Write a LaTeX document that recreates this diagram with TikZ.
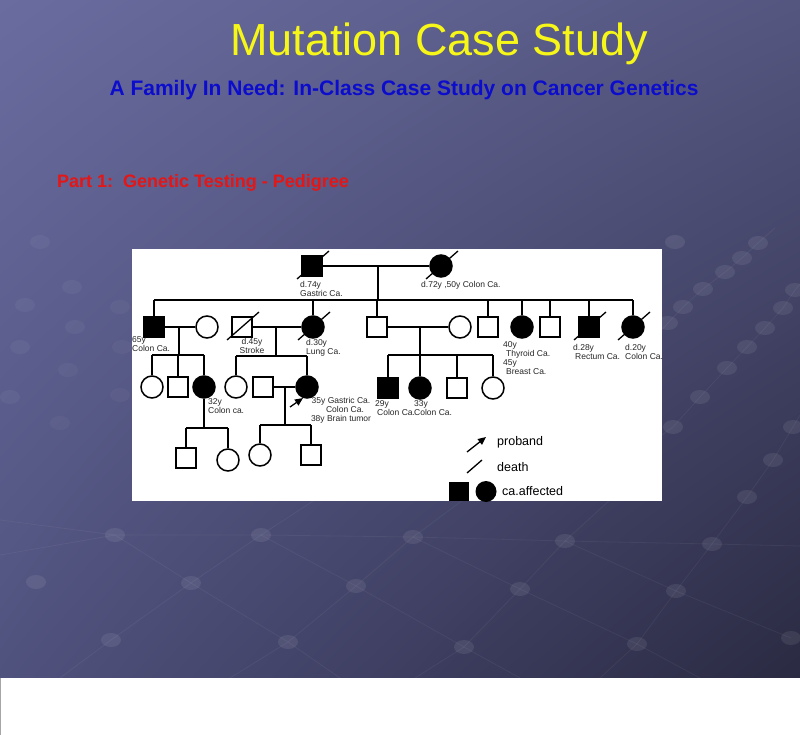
\documentclass[tikz,border=0pt]{standalone}
\usepackage{fontspec}
\setmainfont{Liberation Sans}
\usetikzlibrary{arrows.meta,shadings}

\definecolor{bgul}{RGB}{106,108,160}
\definecolor{bgur}{RGB}{84,86,128}
\definecolor{bgll}{RGB}{80,82,126}
\definecolor{bglr}{RGB}{42,42,66}
\definecolor{titleyellow}{RGB}{246,246,24}
\definecolor{subblue}{RGB}{12,12,205}
\definecolor{partred}{RGB}{228,22,22}

\begin{document}
\begin{tikzpicture}[x=1pt,y=-1pt,>={Triangle[length=8pt,width=7pt]},
  male/.style={draw,line width=1.5pt,minimum size=20pt,inner sep=0pt},
  female/.style={draw,circle,line width=1.5pt,minimum size=22pt,inner sep=0pt},
  ca/.style={fill=black},
  kin/.style={line width=1.3pt},
  lbl/.style={font=\fontsize{8.5}{9}\selectfont,inner sep=0pt,align=left,anchor=north west,text=black!85},
  key/.style={font=\fontsize{12.5}{14}\selectfont,inner sep=0pt,anchor=west},
  bubble/.style={fill=white,fill opacity=0.08},
  faint/.style={fill=white,fill opacity=0.04},
  wire/.style={draw=white,draw opacity=0.05,line width=0.8pt}]
\useasboundingbox (0,0) rectangle (800,735);

% slide background
\shade[upper left=bgul,upper right=bgur,lower left=bgll,lower right=bglr] (0,0) rectangle (800,678);
\draw[wire] (0,520) -- (115,535) -- (261,535) -- (413,537) -- (565,541) -- (712,544) -- (800,546);
\draw[wire] (0,555) -- (115,535) -- (191,583) -- (288,642) -- (340,678);
\draw[wire] (60,678) -- (111,640) -- (191,583) -- (261,535) -- (330,490);
\draw[wire] (230,678) -- (288,642) -- (356,586) -- (413,537) -- (470,495);
\draw[wire] (415,678) -- (464,647) -- (520,589) -- (565,541) -- (610,500);
\draw[wire] (600,678) -- (637,644) -- (676,591) -- (712,544) -- (747,497) -- (773,460) -- (793,427) -- (800,415);
\draw[wire] (261,535) -- (356,586) -- (464,647) -- (520,678);
\draw[wire] (413,537) -- (520,589) -- (637,644) -- (700,678);
\draw[wire] (565,541) -- (676,591) -- (791,638);
\draw[wire] (648,345) -- (668,323) -- (683,307) -- (703,289) -- (725,272) -- (742,258) -- (758,243) -- (775,228);
\draw[wire] (662,435) -- (673,427) -- (700,397) -- (727,368) -- (747,347) -- (765,328) -- (783,308) -- (795,290) -- (800,284);
\foreach \x/\y in {115/535,261/535,413/537,565/541,712/544,36/582,191/583,356/586,520/589,676/591,
  111/640,288/642,464/647,637/644,791/638,675/242,758/243,742/258,725/272,703/289,683/307,668/323,
  795/290,783/308,765/328,747/347,727/368,700/397,673/427,793/427,773/460,747/497}
  \fill[bubble] (\x,\y) ellipse (10 and 7);
\foreach \x/\y in {40/242,72/287,25/305,120/307,75/327,20/347,122/347,68/370,10/397,120/395,60/423}
  \fill[faint] (\x,\y) ellipse (10 and 7);
\fill[white] (0,678) rectangle (800,735);
\draw[gray!70] (0.5,678) -- (0.5,735);

% headings
\node[text=titleyellow,font=\fontsize{45}{54}\selectfont,inner sep=0pt,anchor=base] (title) at (439,56) {Mutation Case Study};
\node[text=subblue,font=\bfseries\fontsize{21}{25}\selectfont,inner sep=0pt,anchor=base] (subtitle) at (404,96) {A Family In Need: In-Class Case Study on Cancer Genetics};
\node[text=partred,font=\bfseries\fontsize{18}{22}\selectfont,inner sep=0pt,anchor=base west] (part) at (57,188) {Part 1:\ \ Genetic Testing - Pedigree};

% pedigree panel
\fill[white] (132,249) rectangle (662,501);

% generation I
\node[male,ca] (gf) at (312,266) {};
\node[female,ca] (gm) at (441,266) {};
\coordinate (m0) at (378,266);
\coordinate (s0) at (378,300);

% generation II
\node[male,ca] (a1) at (154,327) {};
\node[female] (a1s) at (207,327) {};
\node[male] (a2) at (242,327) {};
\node[female,ca] (a3) at (313,327) {};
\node[male] (a4) at (377,327) {};
\node[female] (a4s) at (460,327) {};
\node[male] (a5) at (488,327) {};
\node[female,ca] (a6) at (522,327) {};
\node[male] (a7) at (550,327) {};
\node[male,ca] (a8) at (589,327) {};
\node[female,ca] (a9) at (633,327) {};
\coordinate (m1) at (179,327);
\coordinate (s1) at (179,355);
\coordinate (m2) at (276,327);
\coordinate (s2) at (276,356);
\coordinate (m3) at (420,327);
\coordinate (s3) at (420,355);

% generation III
\node[female] (b1) at (152,387) {};
\node[male] (b2) at (178,387) {};
\node[female,ca] (b3) at (204,387) {};
\node[female] (b4) at (236,387) {};
\node[male] (b5s) at (263,387) {};
\node[female,ca] (b5) at (307,387) {};
\node[male,ca] (b6) at (388,388) {};
\node[female,ca] (b7) at (420,388) {};
\node[male] (b8) at (457,388) {};
\node[female] (b9) at (493,388) {};
\coordinate (s4) at (204,428);
\coordinate (m5) at (285,387);
\coordinate (s5) at (285,425);

% generation IV
\node[male] (c1) at (186,458) {};
\node[female] (c2) at (228,460) {};
\node[female] (c3) at (260,455) {};
\node[male] (c4) at (311,455) {};

% marriages and lines of descent
\draw[kin] (gf) -- (gm);
\draw[kin] (m0) -- (s0);
\draw[kin] (a1.north |- s0) -- (a9.north |- s0);
\foreach \k in {a1,a3,a4,a5,a6,a7,a8,a9}
  \draw[kin] (\k.north |- s0) -- (\k.north);
\draw[kin] (a1) -- (a1s);
\draw[kin] (a2) -- (a3);
\draw[kin] (a4) -- (a4s);
\draw[kin] (m1) -- (s1);
\draw[kin] (b1.north |- s1) -- (b3.north |- s1);
\foreach \k in {b1,b2,b3}
  \draw[kin] (\k.north |- s1) -- (\k.north);
\draw[kin] (m2) -- (s2);
\draw[kin] (b4.north |- s2) -- (b5.north |- s2);
\foreach \k in {b4,b5}
  \draw[kin] (\k.north |- s2) -- (\k.north);
\draw[kin] (m3) -- (s3);
\draw[kin] (b6.north |- s3) -- (b9.north |- s3);
\foreach \k in {b6,b7,b8,b9}
  \draw[kin] (\k.north |- s3) -- (\k.north);
\draw[kin] (b5s) -- (b5);
\draw[kin] (b3.south) -- (s4);
\draw[kin] (c1.north |- s4) -- (c2.north |- s4);
\foreach \k in {c1,c2}
  \draw[kin] (\k.north |- s4) -- (\k.north);
\draw[kin] (m5) -- (s5);
\draw[kin] (c3.north |- s5) -- (c4.north |- s5);
\foreach \k in {c3,c4}
  \draw[kin] (\k.north |- s5) -- (\k.north);

% deceased
\foreach \k in {gf,gm,a2,a3,a8,a9}
  \draw[kin] ([shift={(-15,13)}]\k.center) -- ([shift={(17,-15)}]\k.center);

% proband
\coordinate (pb) at (290,407);
\draw[kin,->] (pb) -- (b5.250);

% ages and diagnoses
\node[lbl] (gf-lbl) at (300,281) {d.74y\\Gastric Ca.};
\node[lbl] (gm-lbl) at (421,281) {d.72y ,50y Colon Ca.};
\node[lbl] (a1-lbl) at (132,336) {65y\\Colon Ca.};
\node[lbl,align=center,anchor=north] (a2-lbl) at (252,338) {d.45y\\Stroke};
\node[lbl] (a3-lbl) at (306,339) {d.30y\\Lung Ca.};
\node[lbl] (a6-lbl) at (503,341) {40y\\\hspace*{3pt}Thyroid Ca.\\45y\\\hspace*{3pt}Breast Ca.};
\node[lbl] (a8-lbl) at (573,344) {d.28y\\\hspace*{2pt}Rectum Ca.};
\node[lbl] (a9-lbl) at (625,344) {d.20y\\Colon Ca.};
\node[lbl] (b3-lbl) at (208,398) {32y\\Colon ca.};
\node[lbl,align=center,anchor=north] (b5-lbl) at (341,397) {35y Gastric Ca.\\\hspace*{8pt}Colon Ca.\\38y Brain tumor};
\node[lbl] (b6-lbl) at (375,400) {29y\\\hspace*{2pt}Colon Ca.};
\node[lbl] (b7-lbl) at (414,400) {33y\\Colon Ca.};

% key
\coordinate (k1a) at (467,452);
\coordinate (k1b) at (486,437);
\draw[kin,->] (k1a) -- (k1b);
\node[key] (k1) at (497,442) {proband};
\coordinate (k2a) at (467,473);
\coordinate (k2b) at (482,460);
\draw[kin] (k2a) -- (k2b);
\node[key] (k2) at (497,467) {death};
\node[male,ca,draw=none,minimum size=19.5pt] (k3m) at (459,491.5) {};
\node[female,ca,draw=none,minimum size=21pt] (k3f) at (486,491.5) {};
\node[key] (k3) at (502,491) {ca.affected};
\end{tikzpicture}
\end{document}
